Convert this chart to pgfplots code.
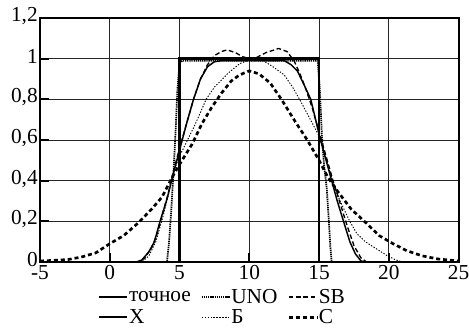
\documentclass[border=0pt]{standalone}
\usepackage{fontspec}
\setmainfont{Liberation Serif}
\usepackage{pgfplots}
\pgfplotsset{compat=1.18}
\begin{document}
\begin{tikzpicture}
\begin{axis}[
  at={(0,0)}, anchor=south west,
  scale only axis, width=314pt, height=183pt,
  xmin=-5, xmax=25, ymin=0, ymax=1.2,
  xtick={-5,0,5,10,15,20,25}, xticklabels={-5,0,5,10,15,20,25},
  ytick={0,0.2,0.4,0.6,0.8,1,1.2},
  yticklabels={0,{0,2},{0,4},{0,6},{0,8},1,{1,2}},
  grid=major, major grid style={black!85, line width=0.6pt},
  axis line style={line width=1.4pt},
  tick style={black, line width=1.6pt},
  major tick length=7pt,
  tick align=inside, xtick pos=bottom, ytick pos=left,
  ticklabel style={font=\fontsize{16}{18}\selectfont, inner sep=1pt},
  xticklabel style={yshift=-1.5pt},
  yticklabel style={xshift=-0.5pt, yshift=1.5pt},
  legend columns=3,
  legend cell align=left,
  legend style={at={(0.434,-0.185)}, anchor=center, draw=none, fill=none,
    font=\fontsize{16}{17}\selectfont, nodes={inner sep=0.5pt},
    row sep=2pt,
    /tikz/every even column/.append style={column sep=7pt}},
  legend image code/.code={\draw[#1] (0pt,0pt) -- (21pt,0pt);},
  clip=true,
]
\addplot[black, line width=2pt] coordinates {(-5,0) (5,0) (5,1) (15,1) (15,0) (25,0)};
\addlegendentry{точное}
\addplot[black, line width=1.3pt, dash pattern=on 1pt off 0.6pt] coordinates {
(-5,0) (4.1,0) (4.25,0.1) (4.4,0.25) (4.55,0.42) (4.7,0.62) (4.85,0.85) (5.0,0.98) (5.2,0.99)
(14.9,0.99) (15.05,0.85) (15.2,0.62) (15.35,0.48) (15.55,0.36) (15.7,0.2) (15.8,0.08) (15.9,0) (25,0)};
\addlegendentry{UNO}
\addplot[black, line width=1pt, dash pattern=on 3.5pt off 2pt] coordinates {
(-5,0) (2.1,0) (2.5,0.02) (3.0,0.07) (3.4,0.14) (3.8,0.24) (4.2,0.34) (4.5,0.43) (5.0,0.56) (5.5,0.68)
(6.0,0.8) (6.5,0.9) (7.0,0.97) (7.5,1.015) (8.0,1.035) (8.4,1.043) (9.0,1.03) (9.5,1.01) (10,1.0)
(10.5,1.005) (11.2,1.03) (12.1,1.05) (12.7,1.035) (13.2,0.99) (13.6,0.93) (14.0,0.86) (14.5,0.76)
(15.0,0.64) (15.5,0.52) (16.0,0.4) (16.5,0.29) (17.0,0.18) (17.5,0.08) (18.0,0.02) (18.4,0) (25,0)};
\addlegendentry{SB}
\addplot[black, line width=1.1pt] coordinates {
(-5,0) (1.9,0) (2.3,0.01) (2.8,0.05) (3.2,0.1) (3.6,0.2) (4.1,0.31) (4.5,0.42) (5.0,0.55) (5.5,0.68)
(6.0,0.8) (6.5,0.9) (7.0,0.96) (7.5,0.985) (8,0.99) (12.5,0.99) (13.0,0.97) (13.44,0.94) (14.0,0.86)
(14.4,0.8) (15.1,0.6) (15.5,0.5) (15.9,0.4) (16.3,0.3) (16.75,0.2) (17.2,0.1) (17.6,0.04) (18.0,0.005)
(18.3,0) (25,0)};
\addlegendentry{X}
\addplot[black, line width=0.7pt, dash pattern=on 1pt off 1.2pt] coordinates {
(-5,0) (2.3,0) (2.8,0.03) (3.3,0.1) (3.8,0.22) (4.2,0.33) (4.6,0.45) (5.0,0.52) (5.5,0.59) (6.0,0.66)
(6.4,0.72) (6.9,0.8) (7.5,0.86) (8.5,0.93) (9.3,0.975) (10.2,1.0) (11,0.99) (11.7,0.96) (12.5,0.92)
(13.1,0.86) (13.6,0.8) (14.3,0.71) (15.0,0.62) (15.5,0.51) (16.0,0.39) (16.5,0.3) (17.2,0.2)
(17.7,0.14) (18.3,0.1) (19.1,0.065) (19.9,0.03) (20.5,0.01) (21,0) (25,0)};
\addlegendentry{Б}
\addplot[black, line width=2pt, dash pattern=on 3pt off 2.2pt] coordinates {
(-5,0.005) (-4,0.008) (-3,0.012) (-2,0.025) (-1,0.045) (0,0.09) (1,0.13) (2,0.19) (3,0.26) (3.75,0.32)
(4.5,0.42) (5.0,0.48) (5.9,0.58) (6.6,0.68) (7.3,0.76) (8.0,0.83) (8.7,0.89) (9.3,0.92) (10,0.94)
(10.7,0.925) (11.5,0.88) (12.3,0.8) (13.2,0.7) (14.15,0.6) (15.0,0.5) (15.6,0.42) (16.3,0.35)
(17.3,0.26) (18.4,0.19) (19.3,0.13) (20.3,0.09) (21.3,0.055) (22.4,0.03) (23.5,0.015) (25,0.005)};
\addlegendentry{C}
\end{axis}
\pgfresetboundingbox
\path[use as bounding box] (-30pt,-52.5pt) rectangle (321.75pt,196.5pt);
\end{tikzpicture}
\end{document}
